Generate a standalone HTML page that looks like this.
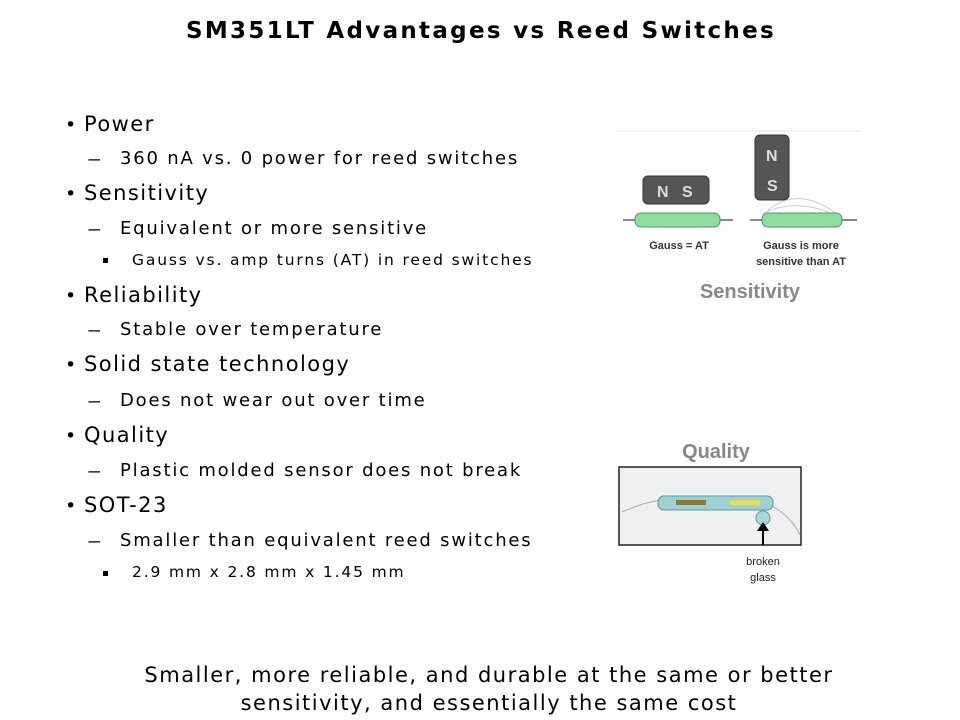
<!DOCTYPE html>
<html><head><meta charset="utf-8"><style>
body{margin:0;width:960px;height:720px;background:#fff;position:relative;overflow:hidden;font-family:"DejaVu Sans","Liberation Sans",sans-serif;color:#000}
.t{position:absolute;white-space:nowrap;line-height:1}
.l1{font-size:21px;left:84px;letter-spacing:1.45px}
.l2{font-size:18px;left:120px;letter-spacing:1.8px}
.l3{font-size:15.5px;left:132px;letter-spacing:1.85px}
.b{position:absolute;font-size:19px;left:65px}
.d{position:absolute;font-size:18px;left:87px;transform:scaleX(1.6);transform-origin:left}
.s{position:absolute;width:5px;height:5px;background:#000;left:103px}
</style></head><body>
<div class="t" style="left:0;width:962px;text-align:center;top:20px;font-size:23px;font-weight:bold;letter-spacing:2.3px">SM351LT Advantages vs Reed Switches</div>

<div class="b" style="top:114px">•</div><div class="t l1" style="top:114px">Power</div>
<div class="d" style="top:149px">–</div><div class="t l2" style="top:150px">360 nA vs. 0 power for reed switches</div>
<div class="b" style="top:183px">•</div><div class="t l1" style="top:183px">Sensitivity</div>
<div class="d" style="top:219px">–</div><div class="t l2" style="top:220px">Equivalent or more sensitive</div>
<div class="s" style="top:258px"></div><div class="t l3" style="top:253px">Gauss vs. amp turns (AT) in reed switches</div>
<div class="b" style="top:285px">•</div><div class="t l1" style="top:285px">Reliability</div>
<div class="d" style="top:320px">–</div><div class="t l2" style="top:321px">Stable over temperature</div>
<div class="b" style="top:354px">•</div><div class="t l1" style="top:354px">Solid state technology</div>
<div class="d" style="top:391px">–</div><div class="t l2" style="top:392px">Does not wear out over time</div>
<div class="b" style="top:425px">•</div><div class="t l1" style="top:425px">Quality</div>
<div class="d" style="top:461px">–</div><div class="t l2" style="top:462px">Plastic molded sensor does not break</div>
<div class="b" style="top:495px">•</div><div class="t l1" style="top:495px">SOT-23</div>
<div class="d" style="top:531px">–</div><div class="t l2" style="top:532px">Smaller than equivalent reed switches</div>
<div class="s" style="top:571px"></div><div class="t l3" style="top:565px">2.9 mm x 2.8 mm x 1.45 mm</div>

<svg style="position:absolute;left:0;top:0" width="960" height="720">
<line x1="615" y1="131" x2="862" y2="131" stroke="#f2f2f2" stroke-width="2"/>
<rect x="643" y="176" width="66" height="28" rx="5" fill="#555" stroke="#333"/>
<text x="657" y="197" font-family="Liberation Sans" font-size="16" font-weight="bold" fill="#ddd">N</text>
<text x="682" y="197" font-family="Liberation Sans" font-size="16" font-weight="bold" fill="#ddd">S</text>
<line x1="623" y1="220" x2="733" y2="220" stroke="#888" stroke-width="2"/>
<rect x="635" y="213" width="85" height="14" rx="6" fill="#8fdca0" stroke="#4a9a60"/>
<text x="679" y="249" text-anchor="middle" font-family="Liberation Sans" font-size="11" font-weight="bold" fill="#333">Gauss =  AT</text>
<rect x="755" y="135" width="34" height="65" rx="5" fill="#555" stroke="#333"/>
<text x="766" y="161" font-family="Liberation Sans" font-size="16" font-weight="bold" fill="#ddd">N</text>
<text x="767" y="191" font-family="Liberation Sans" font-size="16" font-weight="bold" fill="#ddd">S</text>
<path d="M768 210 Q 800 185 838 215" fill="none" stroke="#ccc"/>
<path d="M762 214 Q 800 195 845 220" fill="none" stroke="#ccc"/>
<line x1="750" y1="220" x2="857" y2="220" stroke="#888" stroke-width="2"/>
<rect x="762" y="213" width="80" height="14" rx="6" fill="#8fdca0" stroke="#4a9a60"/>
<text x="801" y="249" text-anchor="middle" font-family="Liberation Sans" font-size="11" font-weight="bold" fill="#333">Gauss is more</text>
<text x="801" y="265" text-anchor="middle" font-family="Liberation Sans" font-size="11" font-weight="bold" fill="#333">sensitive than AT</text>
<text x="750" y="298" text-anchor="middle" font-family="Liberation Sans" font-size="20" font-weight="bold" fill="#888">Sensitivity</text>
<text x="716" y="458" text-anchor="middle" font-family="Liberation Sans" font-size="20" font-weight="bold" fill="#888">Quality</text>
<rect x="619" y="467" width="182" height="78" fill="#eef0f2" stroke="#222" stroke-width="1.5"/>
<path d="M622 512 Q 650 500 665 500" fill="none" stroke="#aaa"/>
<path d="M770 505 Q 790 515 800 535" fill="none" stroke="#aaa"/>
<rect x="658" y="496" width="115" height="14" rx="6" fill="#9ed0d4" stroke="#5a9aa0"/>
<rect x="676" y="500" width="30" height="5" fill="#887a3a"/>
<rect x="730" y="500" width="30" height="5" fill="#e0e060"/>
<circle cx="763" cy="518" r="7" fill="#a8d8dc" stroke="#5a9aa0"/>
<line x1="763" y1="545" x2="763" y2="528" stroke="#000" stroke-width="2"/>
<path d="M757 531 L763 522 L769 531 Z" fill="#000"/>
<text x="763" y="565" text-anchor="middle" font-family="Liberation Sans" font-size="11" fill="#222">broken</text>
<text x="763" y="581" text-anchor="middle" font-family="Liberation Sans" font-size="11" fill="#222">glass</text>
</svg>

<div class="t" style="left:0;width:978px;text-align:center;top:661px;font-size:21px;line-height:28px;white-space:normal;letter-spacing:1.5px">Smaller, more reliable, and durable at the same or better<br>sensitivity, and essentially the same cost</div>
</body></html>
